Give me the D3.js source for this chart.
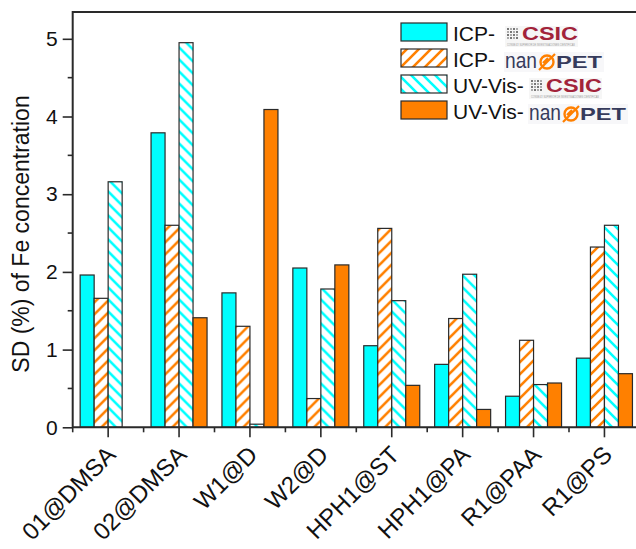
<!DOCTYPE html>
<html>
<head>
<meta charset="utf-8">
<script src="https://cdn.jsdelivr.net/npm/d3@7"></script>
<style>
  body { margin: 0; background: #fff; }
  text { font-family: Arial, 'Liberation Sans', sans-serif; }
</style>
</head>
<body>
<div id="chart"></div>
<script>
const categories = ['01@DMSA', '02@DMSA', 'W1@D', 'W2@D', 'HPH1@ST', 'HPH1@PA', 'R1@PAA', 'R1@PS'];
const seriesKeys = ['icpCsic', 'icpNanopet', 'uvCsic', 'uvNanopet'];
const icpCsic = [1.96, 3.79, 1.73, 2.05, 1.05, 0.81, 0.40, 0.89];
const icpNanopet = [1.66, 2.60, 1.30, 0.37, 2.56, 1.40, 1.12, 2.32];
const uvCsic = [3.16, 4.95, 0.04, 1.78, 1.63, 1.97, 0.55, 2.60];
const uvNanopet = [null, 1.41, 4.09, 2.09, 0.54, 0.23, 0.57, 0.69];
const legendPrefix = ['ICP-', 'ICP-', 'UV-Vis-', 'UV-Vis-'];
const legendLogo = ['csic', 'nanopet', 'csic', 'nanopet'];
const yTicks = [0, 1, 2, 3, 4, 5];

const W = 636, H = 549;
const plotLeft = 72.7, plotTop = 12, plotBottom = 427.3;
const CYAN = '#00ffff', ORANGE = '#ff8000', EDGE = '#2a2a2a';

const svg = d3.select('#chart').append('svg').attr('width', W).attr('height', H);

const defs = svg.append('defs');
function hatch(id, color, dir) {
  const s = 12;
  const p = defs.append('pattern').attr('id', id).attr('patternUnits', 'userSpaceOnUse')
    .attr('width', s).attr('height', s);
  p.append('rect').attr('width', s).attr('height', s).attr('fill', '#fff');
  const d = dir > 0
    ? `M0,${s} L${s},0 M${-s / 2},${s / 2} L${s / 2},${-s / 2} M${s / 2},${1.5 * s} L${1.5 * s},${s / 2}`
    : `M0,0 L${s},${s} M${-s / 2},${s / 2} L${s / 2},${1.5 * s} M${s / 2},${-s / 2} L${1.5 * s},${s / 2}`;
  p.append('path').attr('d', d).attr('stroke', color).attr('stroke-width', 2.6).attr('fill', 'none');
}
hatch('hOrange', ORANGE, 1);
hatch('hCyan', CYAN, -1);
const fills = { icpCsic: CYAN, icpNanopet: 'url(#hOrange)', uvCsic: 'url(#hCyan)', uvNanopet: ORANGE };
const values = { icpCsic, icpNanopet, uvCsic, uvNanopet };

const x0 = d3.scaleBand().domain(categories).range([plotLeft, plotLeft + 8 * 70.9]);
const x1 = d3.scaleBand().domain(seriesKeys).range([7.45, 63.45]);
const y = d3.scaleLinear().domain([0, 5.345]).range([plotBottom, plotTop]);

// bars
const groups = svg.append('g').selectAll('g').data(categories).join('g')
  .attr('transform', (d) => `translate(${x0(d)},0)`);
groups.selectAll('rect')
  .data((c, i) => seriesKeys.map((k) => ({ k, v: values[k][i] })).filter((d) => d.v != null))
  .join('rect')
  .attr('x', (d) => x1(d.k))
  .attr('width', x1.bandwidth())
  .attr('y', (d) => y(d.v))
  .attr('height', (d) => plotBottom - y(d.v))
  .attr('fill', (d) => fills[d.k])
  .attr('stroke', EDGE)
  .attr('stroke-width', 1.2);

// y axis
const yAxis = svg.append('g').attr('transform', `translate(${plotLeft},0)`)
  .call(d3.axisLeft(y).tickValues(yTicks).tickSize(10).tickPadding(5).tickFormat(d3.format('d')));
yAxis.selectAll('.tick text').attr('font-size', 21).attr('fill', '#111')
  .style('font-family', "Arial, 'Liberation Sans', sans-serif");
yAxis.selectAll('.tick line').attr('stroke', EDGE).attr('stroke-width', 1.6);
yAxis.select('.domain').remove();
svg.append('g').selectAll('line').data(d3.range(0.5, 5.5, 1)).join('line')
  .attr('x1', plotLeft - 5).attr('x2', plotLeft).attr('y1', (d) => y(d)).attr('y2', (d) => y(d))
  .attr('stroke', EDGE).attr('stroke-width', 1.6);

// x axis
const xAxis = svg.append('g').attr('transform', `translate(0,${plotBottom})`)
  .call(d3.axisBottom(x0).tickSize(10).tickFormat(''));
xAxis.select('.domain').remove();
xAxis.selectAll('.tick line').attr('stroke', EDGE).attr('stroke-width', 1.6);
svg.append('g').selectAll('line').data(categories).join('line')
  .attr('x1', (d) => x0(d)).attr('x2', (d) => x0(d)).attr('y1', plotBottom).attr('y2', plotBottom + 5)
  .attr('stroke', EDGE).attr('stroke-width', 1.6);
svg.append('g').selectAll('text').data(categories).join('text')
  .attr('transform', (d) => `translate(${x0(d) + x0.bandwidth() / 2 + 9},${plotBottom + 29}) rotate(-45)`)
  .attr('text-anchor', 'end')
  .attr('font-size', 24)
  .attr('fill', '#111')
  .text((d) => d);

// frame
svg.append('path')
  .attr('d', `M${W + 2},${plotTop} L${plotLeft},${plotTop} L${plotLeft},${plotBottom} L${W + 2},${plotBottom}`)
  .attr('fill', 'none').attr('stroke', EDGE).attr('stroke-width', 2);

// y label
svg.append('text')
  .attr('transform', `translate(29,234) rotate(-90)`)
  .attr('text-anchor', 'middle')
  .attr('font-size', 23)
  .attr('fill', '#111')
  .text('SD (%) of Fe concentration');

// legend
function csicLogo(g, x, base) {
  g.append('rect').attr('x', x - 1).attr('y', base - 14).attr('width', 73).attr('height', 21).attr('fill', '#f6f6f6');
  const icon = g.append('g');
  for (let r = 0; r < 4; r++) {
    for (let c = 0; c < 4; c++) {
      icon.append('rect').attr('x', x + 1 + c * 3).attr('y', base - 12 + r * 3)
        .attr('width', 2).attr('height', 2).attr('fill', (r + c) % 2 ? '#aaa' : '#777');
    }
  }
  g.append('text').attr('x', x + 16).attr('y', base).attr('font-size', 18).attr('font-weight', 'bold')
    .attr('fill', '#a2233a').attr('textLength', 56).attr('lengthAdjust', 'spacingAndGlyphs').text('CSIC');
  g.append('text').attr('x', x + 1).attr('y', base + 6).attr('font-size', 3).attr('fill', '#999')
    .attr('textLength', 68).attr('lengthAdjust', 'spacingAndGlyphs')
    .text('CONSEJO SUPERIOR DE INVESTIGACIONES CIENTÍFICAS');
}
function nanopetLogo(g, x, base) {
  g.append('rect').attr('x', x - 1).attr('y', base - 16).attr('width', 100).attr('height', 20).attr('fill', '#f7f7f9');
  g.append('text').attr('x', x).attr('y', base).attr('font-size', 22).attr('fill', '#363b5c')
    .attr('textLength', 32).attr('lengthAdjust', 'spacingAndGlyphs').text('nan');
  const cx = x + 42, cy = base - 6;
  g.append('circle').attr('cx', cx).attr('cy', cy).attr('r', 6.5).attr('fill', 'none')
    .attr('stroke', ORANGE).attr('stroke-width', 2.4);
  g.append('path').attr('d', `M${cx - 8},${cy + 8} L${cx + 8},${cy - 8} M${cx - 4},${cy + 1} L${cx + 1},${cy - 4}`)
    .attr('stroke', ORANGE).attr('stroke-width', 2.2);
  g.append('text').attr('x', x + 51).attr('y', base).attr('font-size', 17).attr('font-weight', 'bold')
    .attr('fill', '#363b5c').attr('textLength', 46).attr('lengthAdjust', 'spacingAndGlyphs').text('PET');
}
const legend = svg.append('g');
seriesKeys.forEach((k, i) => {
  const ry = 23 + i * 26;
  legend.append('rect').attr('x', 401).attr('y', ry).attr('width', 46).attr('height', 18)
    .attr('fill', fills[k]).attr('stroke', EDGE).attr('stroke-width', 1.2);
  legend.append('text').attr('x', 453).attr('y', ry + 18).attr('font-size', 21)
    .attr('fill', '#111').text(legendPrefix[i]);
  const g = legend.append('g');
  const lx = i < 2 ? 506 : 530;
  if (legendLogo[i] === 'csic') csicLogo(g, lx, ry + 17);
  else nanopetLogo(g, lx - 1, ry + 19);
});
</script>
</body>
</html>
